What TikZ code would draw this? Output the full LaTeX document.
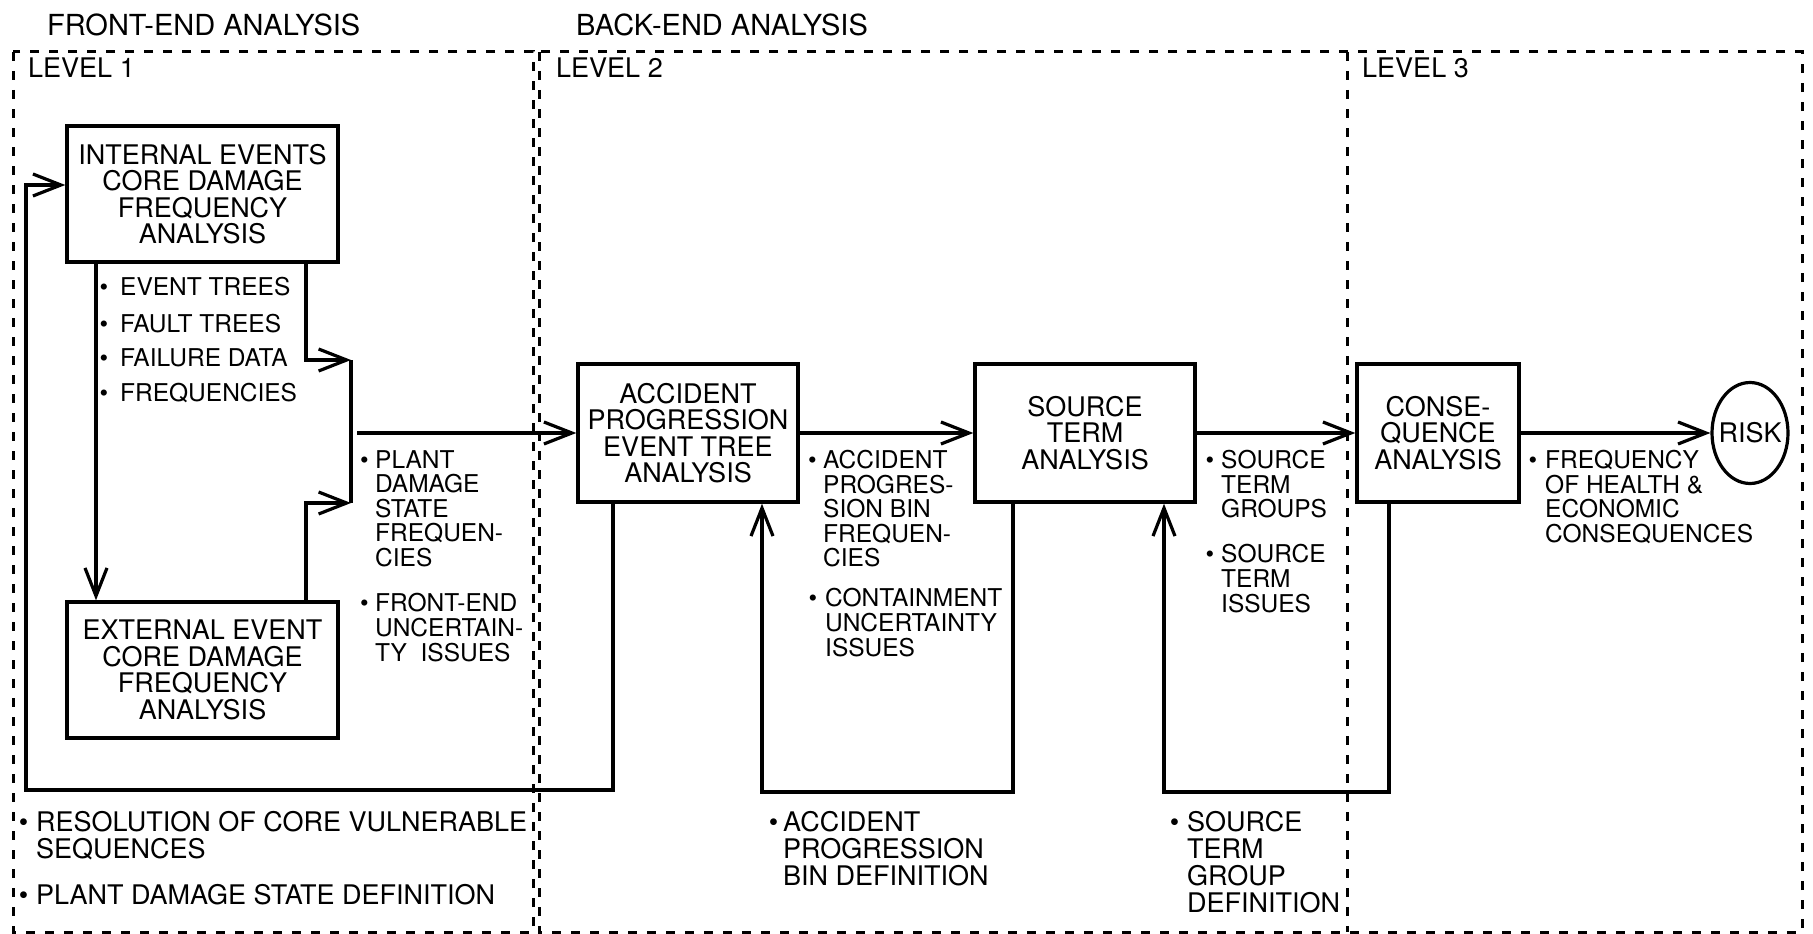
\documentclass[tikz,border=0pt]{standalone}
\usepackage{fontspec}
\setmainfont{TeX Gyre Heros}
\usetikzlibrary{arrows.meta,shapes.geometric}
\newcommand\bl[1]{\llap{•\hspace{#1pt}}}
\begin{document}
\begin{tikzpicture}[x=1pt,y=-1pt,line join=miter,
  box/.style={draw,line width=3.4pt,inner sep=0pt,align=center,font=\fontsize{27}{26.5}\selectfont},
  conn/.style={line width=3.2pt},
  arr/.style={conn,-{Straight Barb[length=28pt,width=22pt]}},
  frame/.style={line width=3pt,dash pattern=on 9pt off 10pt},
  lbl/.style={anchor=north west,inner sep=0pt,align=left,font=\fontsize{24.5}{24.5}\selectfont},
  lblm/.style={lbl,font=\fontsize{24.5}{25}\selectfont},
  lblw/.style={lbl,font=\fontsize{27}{27}\selectfont},
  hdr/.style={anchor=north west,inner sep=0pt,font=\fontsize{29}{30}\selectfont},
  lvl/.style={anchor=north west,inner sep=0pt,font=\fontsize{27}{30}\selectfont}]
\useasboundingbox (0,0) rectangle (1813,934);
\fill[white] (0,0) rectangle (1813,934);

% frames
\draw[frame] (13,52) rectangle (533,932);
\draw[frame] (539,52) rectangle (1802,932);
\draw[frame] (1347,52) -- (1347,932);

% headers
\node[hdr] (hfront) at (47,13.5) {FRONT-END ANALYSIS};
\node[hdr] (hback) at (576,13.5) {BACK-END ANALYSIS};
\node[lvl] (lv1) at (28,58) {LEVEL 1};
\node[lvl] (lv2) at (556,58) {LEVEL 2};
\node[lvl] (lv3) at (1362,58) {LEVEL 3};

% boxes
\node[box,minimum width=271pt,minimum height=136pt] (int) at (202.5,194) {INTERNAL EVENTS\\CORE DAMAGE\\FREQUENCY\\ANALYSIS};
\node[box,minimum width=271pt,minimum height=136pt] (ext) at (202.5,670) {EXTERNAL EVENT\\CORE DAMAGE\\FREQUENCY\\ANALYSIS};
\node[box,minimum width=220pt,minimum height=138pt] (acc) at (688,433) {ACCIDENT\\PROGRESSION\\EVENT TREE\\ANALYSIS};
\node[box,minimum width=220pt,minimum height=138pt] (src) at (1085,433) {SOURCE\\TERM\\ANALYSIS};
\node[box,minimum width=162pt,minimum height=138pt] (con) at (1438,433) {CONSE-\\QUENCE\\ANALYSIS};
\node[draw,ellipse,line width=3.2pt,minimum width=76pt,minimum height=101pt,inner sep=0pt,font=\fontsize{27}{27}\selectfont] (risk) at (1750,433) {\makebox[0pt]{RISK}};

% coordinates
\coordinate (x96) at (96,0);
\coordinate (x306) at (306,0);
\coordinate (mt) at (351,360);
\coordinate (mb) at (351,503);
\coordinate (ms) at (357,433);
\coordinate (iy) at (0,185);
\coordinate (x613) at (613,0);
\coordinate (l1) at (26,790);
\coordinate (x1013) at (1013,0);
\coordinate (l2) at (762,792);
\coordinate (x1389) at (1389,0);
\coordinate (l3) at (1164,792);

% connectors
\draw[arr] (int.south -| x96) -- (ext.north -| x96);
\draw[arr] (int.south -| x306) |- (mt);
\draw[arr] (ext.north -| x306) |- (mb);
\draw[conn] (mt) -- (mb);
\draw[arr] (ms) -- (acc.west |- ms);
\draw[arr] (acc.east) -- (src.west);
\draw[arr] (src.east) -- (con.west);
\draw[arr] (con.east) -- (risk.west);
\draw[arr] (acc.south -| x613) |- (l1) |- (int.west |- iy);
\draw[arr] (src.south -| x1013) |- (l2) -- (acc.south -| l2);
\draw[arr] (con.south -| x1389) |- (l3) -- (src.south -| l3);

% labels
\node[lbl] (t1) at (120,277) {\bl{12}EVENT TREES};
\node[lbl] (t2) at (120,313.5) {\bl{12}FAULT TREES};
\node[lbl] (t3) at (120,348) {\bl{12}FAILURE DATA};
\node[lbl] (t4) at (120,383) {\bl{12}FREQUENCIES};
\node[lbl] (pds) at (375,450) {\bl{6.5}PLANT\\DAMAGE\\STATE\\FREQUEN-\\CIES};
\node[lblm] (feu) at (375,593) {\bl{6.5}FRONT-END\\UNCERTAIN-\\TY\ \ ISSUES};
\node[lbl] (apb) at (823,450) {\bl{6.5}ACCIDENT\\PROGRES-\\SION BIN\\FREQUEN-\\CIES};
\node[lblm] (cui) at (825,588) {\bl{8}CONTAINMENT\\UNCERTAINTY\\ISSUES};
\node[lbl] (stg) at (1221,450) {\bl{7}SOURCE\\TERM\\GROUPS};
\node[lblm] (sti) at (1221,544) {\bl{7}SOURCE\\TERM\\ISSUES};
\node[lbl] (fhe) at (1545,450) {\bl{8}FREQUENCY\\OF HEALTH \&\\ECONOMIC\\CONSEQUENCES};
\node[lblw] (rcv) at (36,811) {\bl{8}RESOLUTION OF CORE VULNERABLE\\SEQUENCES};
\node[lblw] (pdd) at (36,884) {\bl{8}PLANT DAMAGE STATE DEFINITION};
\node[lblw] (apd) at (783,811) {\bl{5}ACCIDENT\\PROGRESSION\\BIN DEFINITION};
\node[lblw] (sgd) at (1187,811) {\bl{8}SOURCE\\TERM\\GROUP\\DEFINITION};
\end{tikzpicture}
\end{document}
